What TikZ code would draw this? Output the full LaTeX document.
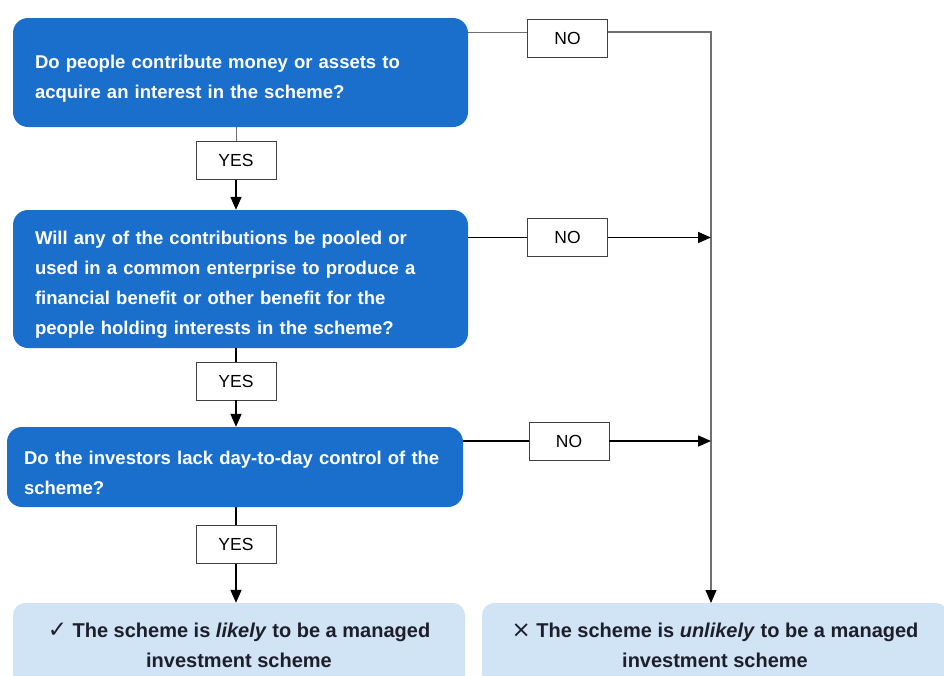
\documentclass[tikz,border=0pt]{standalone}
\usepackage{fontspec}
\setmainfont{Liberation Sans}
\newfontfamily\symfont{DejaVu Sans}
\usetikzlibrary{arrows.meta}
\definecolor{qblue}{HTML}{1A6FCD}
\definecolor{rblue}{HTML}{D0E4F6}
\definecolor{rtext}{HTML}{1E1E2A}
\definecolor{railgray}{HTML}{707070}

\begin{document}
\begin{tikzpicture}[x=1pt,y=-1pt,
  question/.style={fill=qblue, text=white, rounded corners=15pt, align=left,
    font=\bfseries\fontsize{18.5}{30}\selectfont, inner xsep=22pt,
    execute at begin node={\rule{0pt}{25pt}}},
  answer/.style={draw=black!75, fill=white, line width=0.9pt, inner sep=0pt,
    font=\fontsize{17.5}{20}\selectfont, minimum width=80pt, minimum height=38pt},
  result/.style={fill=rblue, text=rtext, rounded corners=12pt, align=center,
    font=\bfseries\fontsize{20}{30}\selectfont, minimum height=84pt},
  thin/.style={draw=railgray, line width=1pt},
  flow/.style={line width=1.6pt, -{Triangle[length=13pt,width=11pt]}},
  railflow/.style={draw=railgray, line width=1.1pt, -{Triangle[length=13pt,width=11pt,color=black]}}
]
  \useasboundingbox (0,0) rectangle (944,675);
  \clip (0,0) rectangle (944,675);

  % questions
  \node[question, text width=411pt, minimum height=109pt] (q1) at (240.5,72.5)
    {Do people contribute money or assets to\\acquire an interest in the scheme?};
  \node[question, text width=411pt, minimum height=138pt] (q2) at (240.5,279)
    {Will any of the contributions be pooled or\\used in a common enterprise to produce a\\financial benefit or other benefit for the\\people holding interests in the scheme?};
  \node[question, text width=422pt, inner xsep=17pt, minimum height=80pt] (q3) at (235,467)
    {Do the investors lack day-to-day control of the\\scheme?};

  % yes / no labels
  \node[answer] (y1) at (236,160.5) {YES};
  \node[answer] (y2) at (236,381) {YES};
  \node[answer] (y3) at (236,544.5) {YES};
  \node[answer] (n1) at (567.5,38) {NO};
  \node[answer] (n2) at (567.5,237.5) {NO};
  \node[answer] (n3) at (569,441) {NO};

  % outcomes
  \node[result, minimum width=452pt] (likely) at (239,645)
    {{\symfont\mdseries\fontsize{23}{30}\selectfont ✓}\ The scheme is \textit{likely} to be a managed\\investment scheme};
  \node[result, minimum width=466pt] (unlikely) at (715,645)
    {{\symfont\mdseries\fontsize{23}{30}\selectfont ×}\ The scheme is \textit{unlikely} to be a managed\\investment scheme};

  \coordinate (rail) at (711,32);
  \coordinate (railend) at (711,603);

  % yes path
  \draw[thin] (y1 |- q1.south) -- (y1.north);
  \draw[flow] (y1.south) -- (y1 |- q2.north);
  \draw[line width=1.6pt] (y2 |- q2.south) -- (y2.north);
  \draw[flow] (y2.south) -- (y2 |- q3.north);
  \draw[line width=1.6pt] (y3 |- q3.south) -- (y3.north);
  \draw[flow] (y3.south) -- (y3 |- likely.north);

  % no path
  \draw[thin] (q1.east |- rail) -- (n1.west |- rail);
  \draw[railflow] (n1.east |- rail) -- (rail) -- (railend);
  \draw[line width=1.6pt] (q2.east |- n2) -- (n2.west);
  \draw[flow] (n2.east) -- (rail |- n2);
  \draw[line width=1.6pt] (q3.east |- n3) -- (n3.west);
  \draw[flow] (n3.east) -- (rail |- n3);
\end{tikzpicture}
\end{document}
